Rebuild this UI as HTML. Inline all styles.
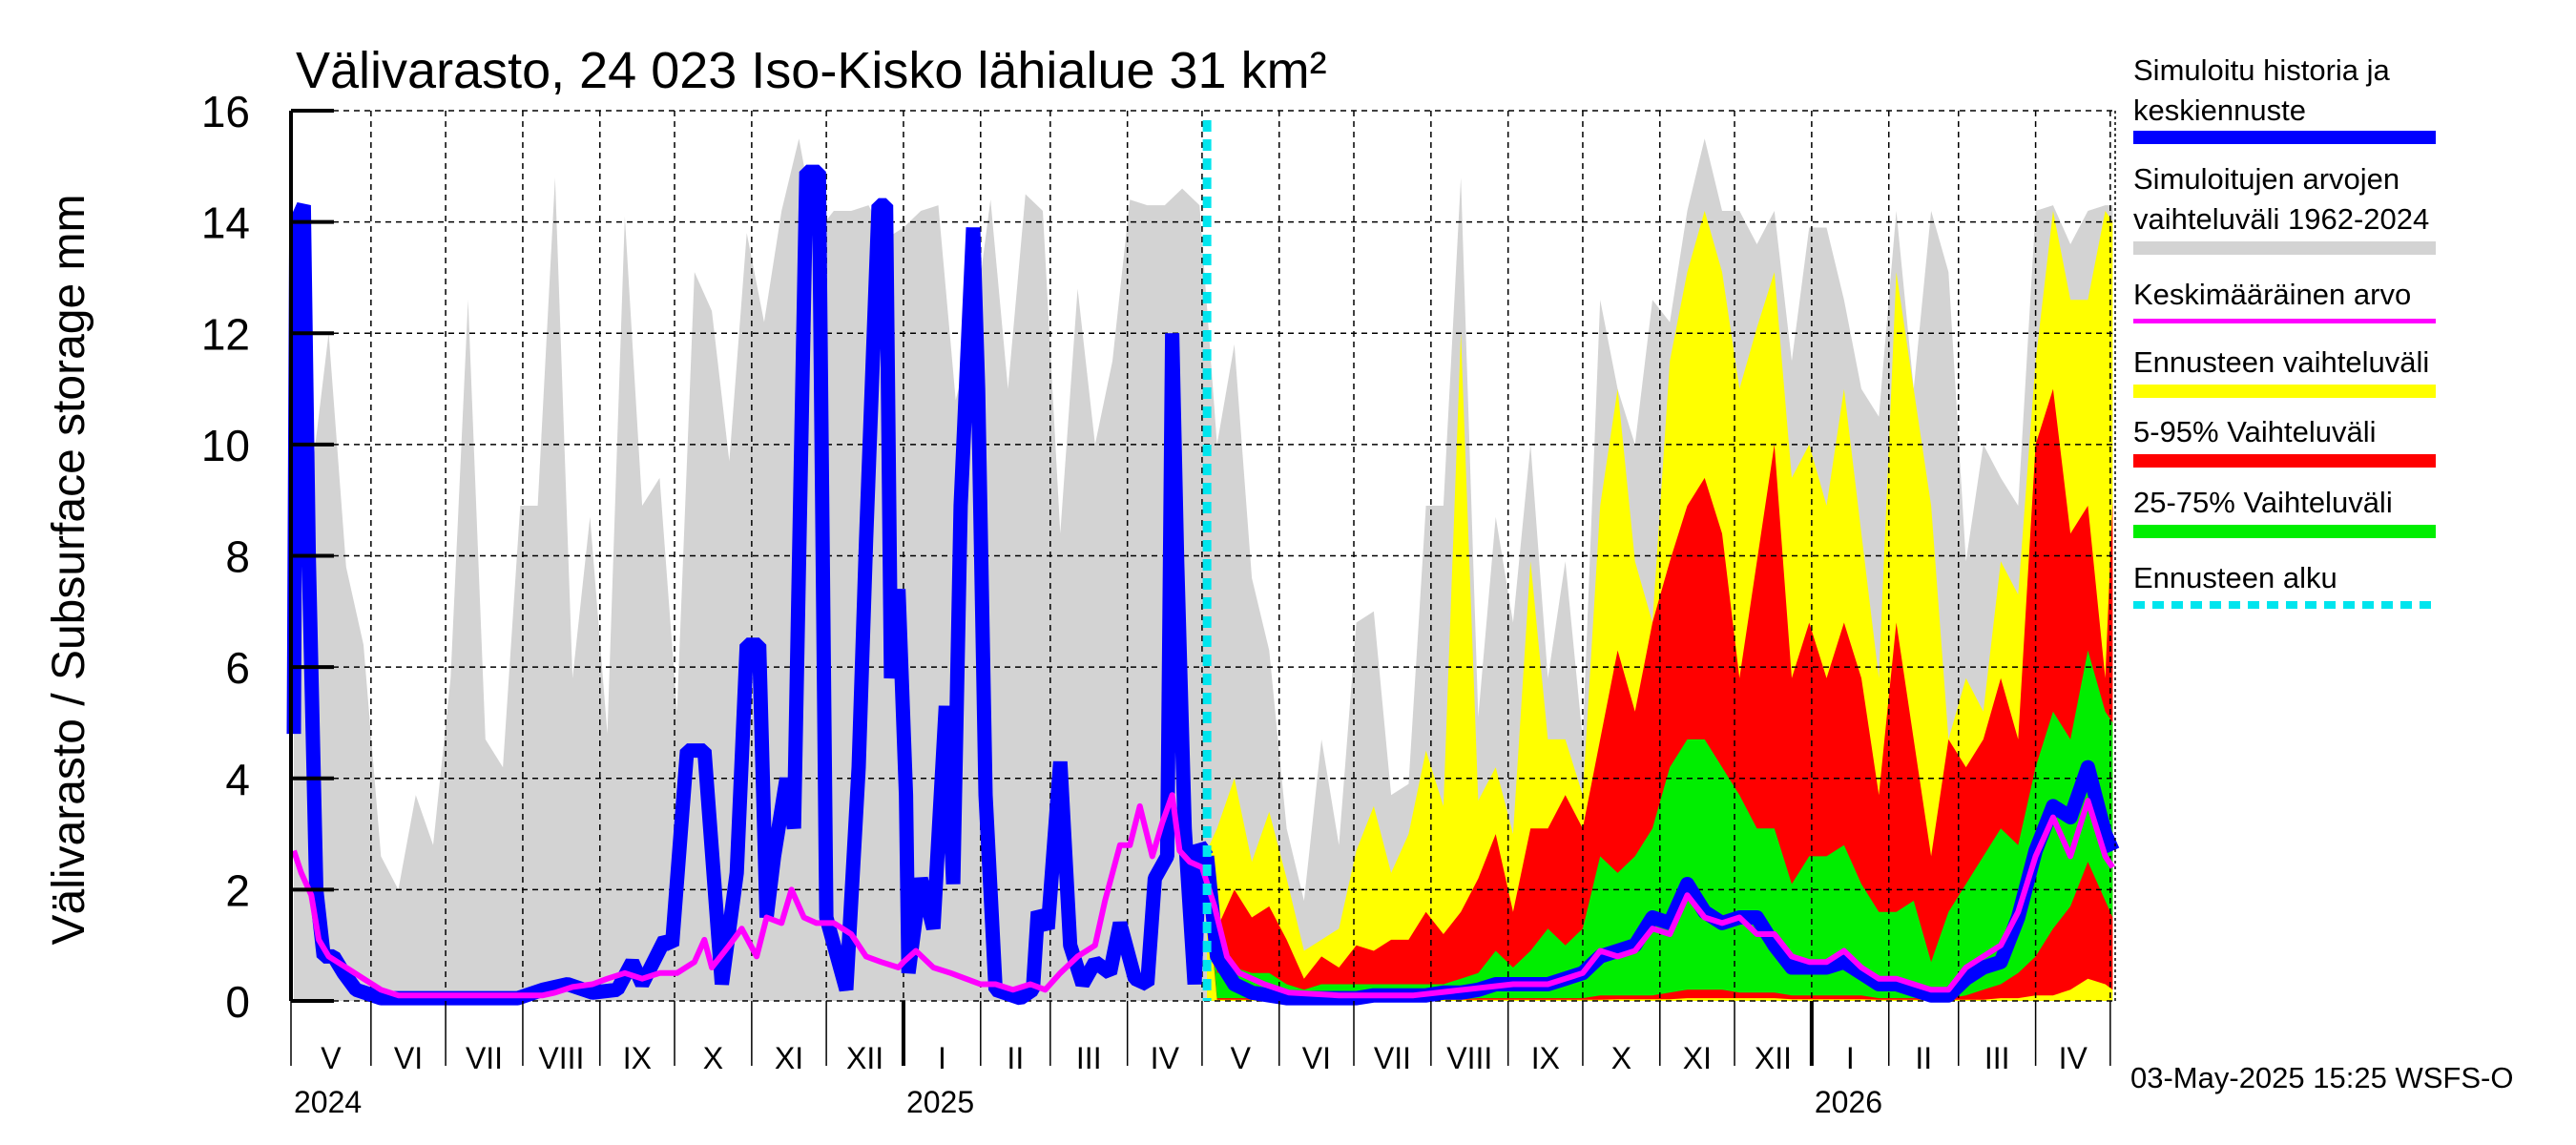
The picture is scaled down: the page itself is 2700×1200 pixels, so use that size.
<!DOCTYPE html>
<html><head><meta charset="utf-8"><style>
body{margin:0;background:#fff}
svg{display:block;font-family:"Liberation Sans",sans-serif}
</style></head><body>
<svg id="chart" width="2700" height="1200" viewBox="0 0 2700 1200" xmlns="http://www.w3.org/2000/svg">
<rect x="0" y="0" width="2700" height="1200" fill="#fff"/>
<text x="310" y="92" font-size="54">Välivarasto, 24 023 Iso-Kisko lähialue 31 km²</text>
<text transform="translate(88,597) rotate(-90)" text-anchor="middle" font-size="48">Välivarasto / Subsurface storage  mm</text>
<g id="plot"></g>
<g id="axes"></g>
<g font-size="31">
<text x="2236" y="84">Simuloitu historia ja</text><text x="2236" y="126">keskiennuste</text>
<rect x="2236" y="137" width="317" height="14" fill="#0000ff"/>
<text x="2236" y="198">Simuloitujen arvojen</text><text x="2236" y="240">vaihteluväli 1962-2024</text>
<rect x="2236" y="253" width="317" height="14" fill="#d3d3d3"/>
<text x="2236" y="319">Keskimääräinen arvo</text>
<rect x="2236" y="334" width="317" height="5" fill="#ff00ff"/>
<text x="2236" y="390">Ennusteen vaihteluväli</text>
<rect x="2236" y="403" width="317" height="14" fill="#ffff00"/>
<text x="2236" y="463">5-95% Vaihteluväli</text>
<rect x="2236" y="476" width="317" height="14" fill="#ff0000"/>
<text x="2236" y="537">25-75% Vaihteluväli</text>
<rect x="2236" y="550" width="317" height="14" fill="#00ee00"/>
<text x="2236" y="616">Ennusteen alku</text>
<line x1="2236" y1="634" x2="2553" y2="634" stroke="#00e5ee" stroke-width="8" stroke-dasharray="12,8"/>
</g>
<text x="2233" y="1140" font-size="31">03-May-2025 15:25 WSFS-O</text>
</svg>
<script>
const greyDays=[0,7,14,21,28,35,42,49,56,63,70,77,84,91,98,105,112,119,126,133,140,147,154,161,168,175,182,189,196,203,210,217,224,231,238,245,252,259,266,273,280,287,294,301,308,315,322,329,336,343,350,357,364,371,378,385,392,399,406,413,420,427,434,441,448,455,462,469,476,483,490,497,504,511,518,525,532,539,546,553,560,567,574,581,588,595,602,609,616,623,630,637,644,651,658,665,672,679,686,693,700,707,714,721,728,731];
const greyMax=[12,9.4,12.0,7.8,6.4,2.6,2.0,3.7,2.8,5.8,12.6,4.7,4.2,8.9,8.9,14.8,5.8,8.7,4.8,14.1,8.9,9.4,5.2,13.1,12.4,9.7,13.8,12.2,14.2,15.5,13.8,14.2,14.2,14.3,13.7,13.9,14.2,14.3,10.8,12,14.4,11,14.5,14.2,8.4,12.8,10,11.5,14.4,14.3,14.3,14.6,14.3,10,11.8,7.6,6.3,3.1,1.8,4.7,2.8,6.8,7.0,3.7,3.9,8.9,8.9,14.8,5.1,8.7,6.8,10,5.8,7.9,4.7,12.6,11,10,12.6,12.2,14.2,15.5,14.2,14.2,13.6,14.2,11.5,13.9,13.9,12.6,11,10.5,14.2,11,14.2,13.1,7.9,10,9.4,8.9,14.2,14.3,13.6,14.2,14.3,14.3];
const fDays=[367,371,378,385,392,399,406,413,420,427,434,441,448,455,462,469,476,483,490,497,504,511,518,525,532,539,546,553,560,567,574,581,588,595,602,609,616,623,630,637,644,651,658,665,672,679,686,693,700,707,714,721,728,731];
const yellowHigh=[2.7,3.1,4,2.5,3.4,2.2,0.9,1.1,1.3,2.7,3.5,2.3,3.0,4.5,3.5,12,3.6,4.2,3.0,7.9,4.7,4.7,3.7,8.9,11,7.9,6.8,11.5,13.1,14.2,13.1,11,12.1,13.1,9.4,10,8.9,11,8.4,5.8,13.1,11,8.9,4.7,5.8,5.2,7.9,7.3,11.5,14.2,12.6,12.6,14.2,14];
const redHigh=[2.6,1.3,2.0,1.5,1.7,1.1,0.4,0.8,0.6,1.0,0.9,1.1,1.1,1.6,1.2,1.6,2.2,3.0,1.6,3.1,3.1,3.7,3.1,4.7,6.3,5.2,6.8,7.9,8.9,9.4,8.4,5.8,7.9,10,5.8,6.8,5.8,6.8,5.8,3.7,6.8,4.7,2.6,4.7,4.2,4.7,5.8,4.7,10,11,8.4,8.9,5.8,9];
const greenHigh=[2.5,0.5,0.6,0.5,0.5,0.3,0.2,0.3,0.3,0.3,0.3,0.3,0.3,0.3,0.3,0.4,0.5,0.9,0.6,0.9,1.3,1.0,1.3,2.6,2.3,2.6,3.1,4.2,4.7,4.7,4.2,3.7,3.1,3.1,2.1,2.6,2.6,2.8,2.1,1.6,1.6,1.8,0.7,1.6,2.1,2.6,3.1,2.8,4.2,5.2,4.7,6.3,5.2,5];
const greenLow=[2.2,0.05,0.05,0.05,0.05,0.03,0.03,0.03,0.03,0.03,0.03,0.03,0.03,0.03,0.03,0.03,0.05,0.05,0.05,0.05,0.05,0.05,0.05,0.1,0.1,0.1,0.1,0.15,0.2,0.2,0.2,0.15,0.15,0.15,0.1,0.1,0.1,0.1,0.1,0.05,0.05,0.05,0.05,0.05,0.1,0.2,0.3,0.5,0.8,1.3,1.7,2.5,1.8,1.5];
const redLow=[2.0,0.02,0.02,0.02,0.02,0.02,0.02,0.02,0.02,0.02,0.02,0.02,0.02,0.02,0.02,0.02,0.02,0.02,0.02,0.02,0.02,0.02,0.02,0.02,0.03,0.03,0.03,0.03,0.05,0.05,0.05,0.05,0.05,0.05,0.03,0.03,0.03,0.03,0.03,0.02,0.02,0.02,0.02,0.02,0.02,0.02,0.05,0.05,0.1,0.1,0.2,0.4,0.3,0.2];
const fBlue=[2.6,0.8,0.3,0.15,0.1,0.05,0.05,0.05,0.05,0.05,0.1,0.1,0.1,0.1,0.15,0.15,0.2,0.3,0.3,0.3,0.3,0.4,0.5,0.8,0.9,1.0,1.5,1.4,2.1,1.6,1.4,1.5,1.5,1.0,0.6,0.6,0.6,0.7,0.5,0.3,0.3,0.2,0.1,0.1,0.4,0.6,0.7,1.5,2.7,3.5,3.3,4.2,3.0,2.7];
const histDays=[0,1,4,6,9,12,16,20,25,35,60,90,100,110,120,130,136,140,149,152,158,165,172,178,182,187,190,193,198,201,206,211,214,222,227,230,235,238,240,243,246,247,252,257,262,265,268,273,275,278,282,292,297,299,303,308,312,317,322,328,332,338,343,346,351,353,355,358,362,364,367];
const histBlue=[4.8,14.0,14.3,8,2,0.8,0.8,0.5,0.2,0.05,0.05,0.05,0.2,0.3,0.15,0.2,0.7,0.3,1.1,1.0,4.5,4.5,0.3,2.3,6.4,6.4,1.5,2.6,4.0,3.1,14.9,14.9,1.5,0.2,4.2,8.3,14.3,14.3,5.8,7.4,3.7,0.5,2.2,1.3,5.3,2.1,8.9,13.9,11,3.7,0.2,0.05,0.2,1.6,1.3,4.3,1.0,0.3,0.7,0.5,1.4,0.4,0.3,2.2,2.6,12.0,7.9,3.1,0.3,2.8,2.6];
const meanDays=[0,3,7,10,14,21,28,35,42,100,105,112,120,126,133,140,147,154,161,165,168,175,180,186,190,196,200,205,210,217,224,230,236,243,245,250,257,264,270,276,282,289,296,302,308,315,322,326,332,336,340,345,349,353,356,360,365,370,375,380,390,400,420,450,470,490,497,504,511,518,525,532,539,546,553,560,567,574,581,588,595,602,609,616,623,630,637,644,651,658,665,672,679,686,693,700,707,714,721,728,731];
const meanVals=[2.7,2.3,1.9,1.1,0.8,0.6,0.4,0.2,0.1,0.1,0.15,0.25,0.3,0.4,0.5,0.4,0.5,0.5,0.7,1.1,0.6,1.0,1.3,0.8,1.5,1.4,2.0,1.5,1.4,1.4,1.2,0.8,0.7,0.6,0.7,0.9,0.6,0.5,0.4,0.3,0.3,0.2,0.3,0.2,0.5,0.8,1.0,1.8,2.8,2.8,3.5,2.6,3.2,3.7,2.7,2.5,2.4,1.7,0.8,0.5,0.3,0.15,0.1,0.1,0.2,0.3,0.3,0.3,0.4,0.5,0.9,0.8,0.9,1.3,1.2,1.9,1.5,1.4,1.5,1.2,1.2,0.8,0.7,0.7,0.9,0.6,0.4,0.4,0.3,0.2,0.2,0.6,0.8,1.0,1.6,2.6,3.3,2.6,3.6,2.6,2.4];
const yTicks=[0,2,4,6,8,10,12,14,16];
const monthDays=[0,31,61,92,123,153,184,214,245,276,304,335,365,396,426,457,488,518,549,579,610,641,669,700,730];
const monthLabels=["V","VI","VII","VIII","IX","X","XI","XII","I","II","III","IV","V","VI","VII","VIII","IX","X","XI","XII","I","II","III","IV"];
const yearDays=[245,610];
const yearLabels=["2024","2025","2026"];
const forecastStart=367;

const NS="http://www.w3.org/2000/svg";
const X0=305,X1=2217,Y0=1049,Y1=116;
function xs(d){return 308+d*2.608;}
function ys(v){return Y0-v*(Y0-Y1)/16;}
const plot=document.getElementById('plot');
const axes=document.getElementById('axes');
function mk(tag,attrs,parent){const e=document.createElementNS(NS,tag);for(const k in attrs)e.setAttribute(k,attrs[k]);parent.appendChild(e);return e;}
function band(days,hi,lo){let p='';for(let i=0;i<days.length;i++)p+=(i?'L':'M')+xs(days[i]).toFixed(1)+','+ys(hi[i]).toFixed(1);for(let i=days.length-1;i>=0;i--)p+='L'+xs(days[i]).toFixed(1)+','+ys(lo?lo[i]:0).toFixed(1);return p+'Z';}
function line(days,v){let p='';for(let i=0;i<days.length;i++)p+=(i?'L':'M')+xs(days[i]).toFixed(1)+','+ys(v[i]).toFixed(1);return p;}

const g1=mk('path',{d:band(greyDays,greyMax,null),fill:'#d3d3d3'},plot);


const g2=mk('path',{d:band(fDays,yellowHigh,null),fill:'#ffff00'},plot);


const g3=mk('path',{d:band(fDays,redHigh,redLow),fill:'#ff0000'},plot);


const g4=mk('path',{d:band(fDays,greenHigh,greenLow),fill:'#00ee00'},plot);



for(const t of yTicks){
  const l=mk('line',{x1:X0,x2:X1,y1:ys(t),y2:ys(t),stroke:'#000','stroke-width':1.5,'stroke-dasharray':'6,5'},plot);
  
  
  const tk=mk('line',{x1:X0,x2:X0+45,y1:ys(t),y2:ys(t),stroke:'#000','stroke-width':4},axes);
  
  
  const tx=mk('text',{x:262,y:ys(t)+17,'text-anchor':'end','font-size':46},axes);
  tx.textContent=t;
  
  
}
for(let i=1;i<monthDays.length;i++){
  const x=Math.min(xs(monthDays[i]),X1);
  const l=mk('line',{x1:x,x2:x,y1:Y1,y2:Y0,stroke:'#000','stroke-width':1.5,'stroke-dasharray':'6,5'},plot);
  
  
}
const hb=mk('path',{d:line(histDays,histBlue),fill:'none',stroke:'#0000ff','stroke-width':15,'stroke-linejoin':'bevel'},plot);


const fb=mk('path',{d:line(fDays,fBlue),fill:'none',stroke:'#0000ff','stroke-width':15,'stroke-linejoin':'round'},plot);


const mg=mk('path',{d:line(meanDays,meanVals),fill:'none',stroke:'#ff00ff','stroke-width':6,'stroke-linejoin':'round'},plot);


const cy=mk('line',{x1:xs(forecastStart),x2:xs(forecastStart),y1:126,y2:Y0,stroke:'#00e5ee','stroke-width':9,'stroke-dasharray':'12,8'},plot);



const la=mk('line',{x1:X0,x2:X0,y1:Y1,y2:Y0,stroke:'#000','stroke-width':4},axes);


const rb=mk('line',{x1:X1,x2:X1,y1:Y1,y2:Y0,stroke:'#000','stroke-width':1.5,'stroke-dasharray':'3,3'},axes);


const ticksX=[X0].concat(monthDays.slice(1).map(d=>Math.min(xs(d),X1)));
for(let i=0;i<ticksX.length;i++){
  const isYear=yearDays.includes(monthDays[i]);
  const t=mk('line',{x1:ticksX[i],x2:ticksX[i],y1:Y0,y2:1117,stroke:'#000','stroke-width':isYear?4:1.5},axes);
  
  
}
for(let i=0;i<monthLabels.length;i++){
  const cx=(ticksX[i]+ticksX[i+1])/2;
  const t=mk('text',{x:cx,y:1120,'text-anchor':'middle','font-size':32},axes);
  t.textContent=monthLabels[i];
  
  
}
const yx=[X0+3].concat(yearDays.map(d=>xs(d)+3));
for(let i=0;i<yearLabels.length;i++){
  const t=mk('text',{x:yx[i],y:1166,'font-size':32},axes);
  t.textContent=yearLabels[i];
  
  
}
</script>
</body></html>
